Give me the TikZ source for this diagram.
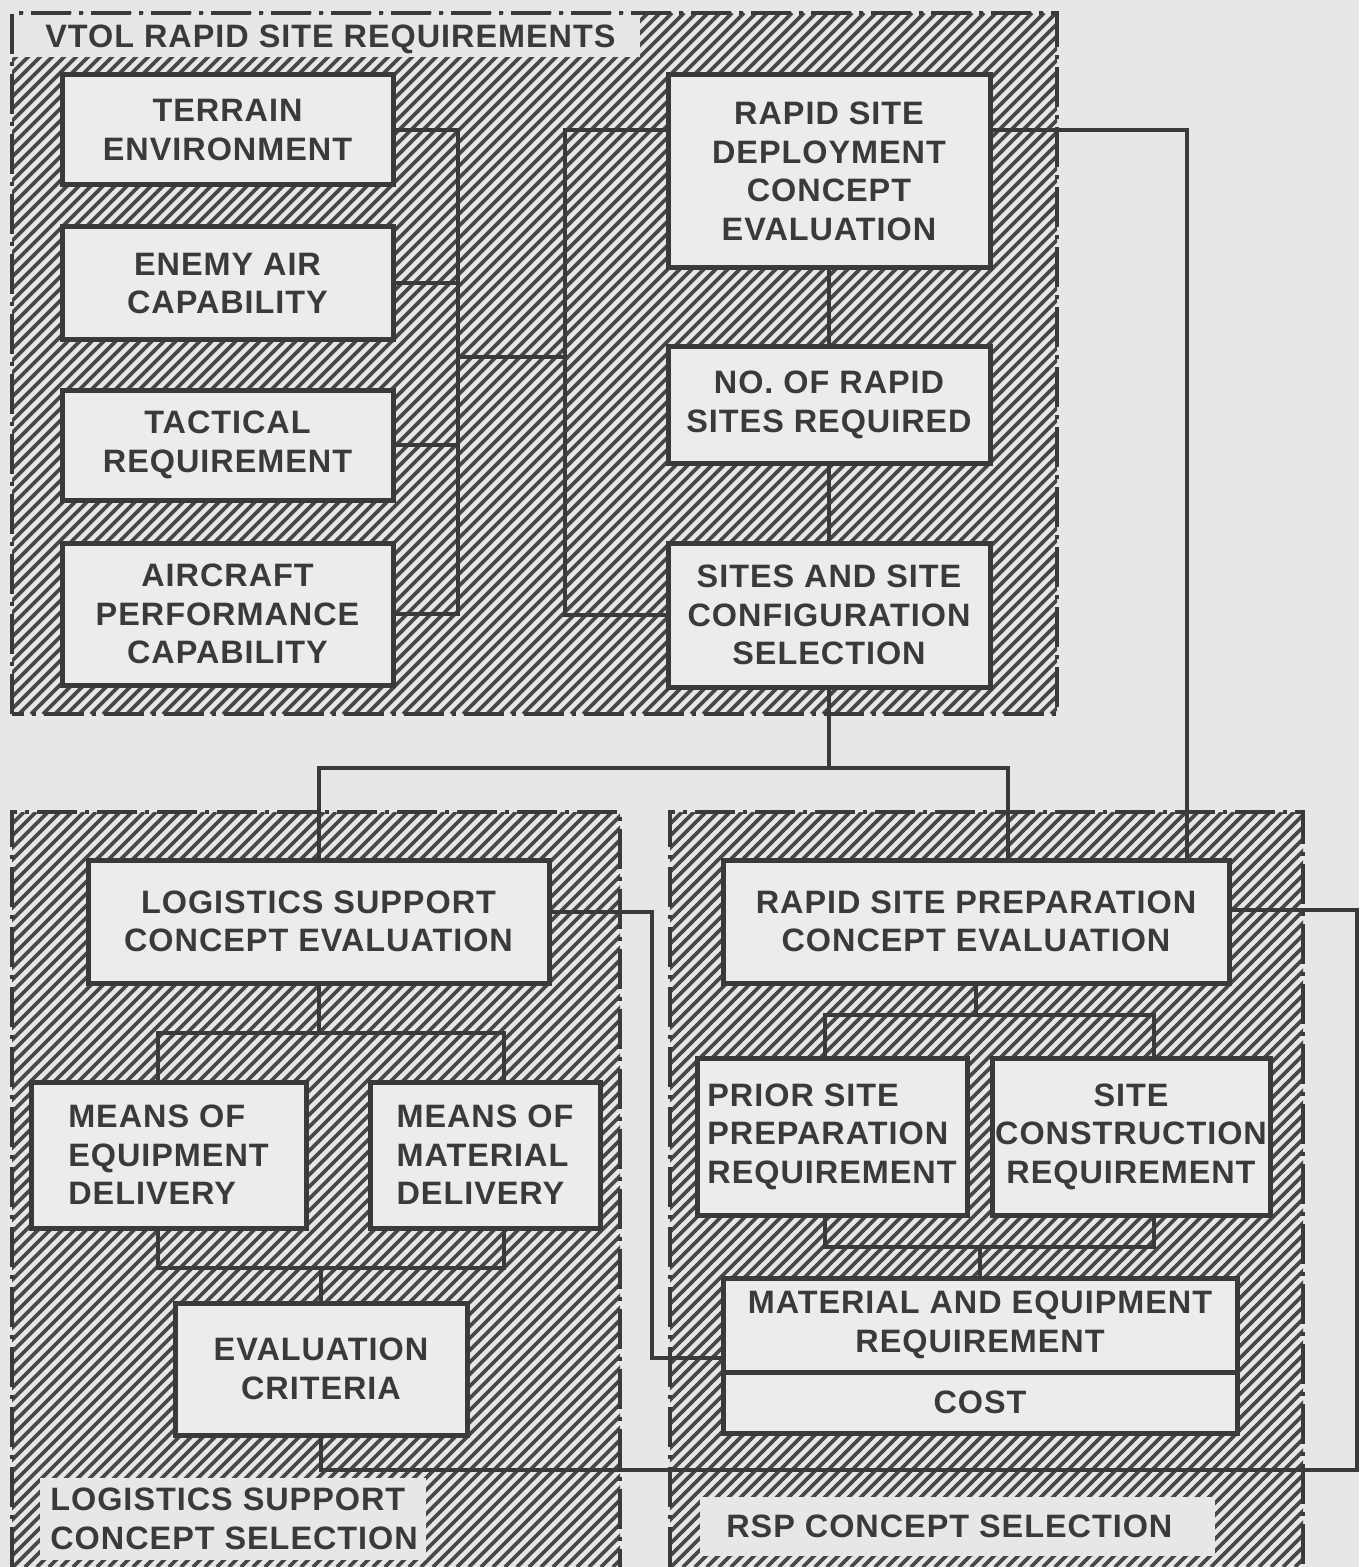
\documentclass[tikz,border=0pt]{standalone}
\usepackage{fontspec}
\setmainfont{Liberation Sans}[LetterSpace=3]

\definecolor{paper}{RGB}{231,231,229}
\definecolor{boxfill}{RGB}{236,236,234}
\definecolor{ink}{RGB}{58,58,58}
\definecolor{hatchink}{RGB}{72,72,72}

\newcommand{\boxfont}{\fontsize{16.2}{19.3}\selectfont\bfseries}

% diagonal hatching of one zone, clipped to its rectangle
\newcommand{\hatchzone}[4]{%
  \begin{scope}
    \clip (#1,#2) rectangle (#3,#4);
    \pgfmathtruncatemacro{\HatchA}{#1+#2}
    \pgfmathtruncatemacro{\HatchB}{#1+#2+12}
    \pgfmathtruncatemacro{\HatchC}{#3+#4}
    \foreach \c in {\HatchA,\HatchB,...,\HatchC}
      \draw[hatchline] ({\c-#2},#2) -- ({\c-#4},#4);
  \end{scope}}

\begin{document}
\begin{tikzpicture}[x=0.5pt, y=-0.5pt,
    blockbox/.style={draw=ink, line width=2.5pt, fill=boxfill, inner sep=0pt,
                     align=center, font=\boxfont, text=ink},
    span/.style n args={4}{at={({(#1+#3)/2},{(#2+#4)/2})},
                     minimum width={(#3-#1)*0.5pt}, minimum height={(#4-#2)*0.5pt}},
    wire/.style={draw=ink, line width=2pt},
    hatchline/.style={draw=hatchink, line width=1.9pt},
    zoneedge/.style={draw=ink, line width=1.6pt,
                     dash pattern=on 20pt off 4pt on 2pt off 4pt},
    zonelabel/.style={inner sep=0pt, align=left, font=\boxfont, text=ink}]

  \useasboundingbox (0,0) rectangle (1359,1567);
  \fill[paper] (0,0) rectangle (1359,1567);

  % =======================================================
  % ZONES (hatched backgrounds)
  % =======================================================
  \hatchzone{12}{13}{1057}{714}
  \hatchzone{12}{812}{620}{1567}
  \hatchzone{670}{812}{1303}{1567}

  % clear strips for the zone titles
  \fill[paper] (12,13) rectangle (640,57);
  \fill[paper] (40,1478) rectangle (426,1560);
  \fill[paper] (700,1497) rectangle (1215,1556);

  \draw[zoneedge] (12,714) -- (12,13) -- (1057,13) -- (1057,714) -- cycle;
  \draw[zoneedge] (12,1567) -- (12,812) -- (620,812) -- (620,1567);
  \draw[zoneedge] (670,1567) -- (670,812) -- (1303,812) -- (1303,1567);

  \node[zonelabel, anchor=west] (reqlabel) at (45,39) {VTOL RAPID SITE REQUIREMENTS};
  \node[zonelabel, anchor=west] (loglabel) at (50,1519) {LOGISTICS SUPPORT\\CONCEPT SELECTION};
  \node[zonelabel, anchor=west] (rsplabel) at (726,1526) {RSP CONCEPT SELECTION};

  % =======================================================
  % 1. VTOL Rapid Site Requirements
  % =======================================================
  \node[blockbox, span={62}{75}{393}{185}] (terrain) {TERRAIN\\ENVIRONMENT};
  \node[blockbox, span={62}{227}{393}{340}] (enemyair) {ENEMY AIR\\CAPABILITY};
  \node[blockbox, span={62}{390}{393}{500}] (tactical) {TACTICAL\\REQUIREMENT};
  \node[blockbox, span={62}{543}{393}{685}] (aircraft) {AIRCRAFT\\PERFORMANCE\\CAPABILITY};

  \node[blockbox, span={668}{75}{990}{268}] (rsdeploy) {RAPID SITE\\DEPLOYMENT\\CONCEPT\\EVALUATION};
  \node[blockbox, span={668}{347}{990}{463}] (nosites) {NO. OF RAPID\\SITES REQUIRED};
  \node[blockbox, span={668}{543}{990}{687}] (sites) {SITES AND SITE\\CONFIGURATION\\SELECTION};

  % input buses
  \coordinate (lbus) at (458,357);
  \coordinate (rbus) at (565,357);
  \draw[wire] (terrain.east) -- (terrain.east -| lbus) -- (aircraft.east -| lbus) -- (aircraft.east);
  \foreach \n in {enemyair,tactical}
    \draw[wire] (\n.east) -- (\n.east -| lbus);
  \draw[wire] (lbus) -- (rbus);
  \draw[wire] (rsdeploy.west |- terrain.east) -- (rbus |- terrain.east) -- (rbus |- sites.west) -- (sites.west);

  \draw[wire] (rsdeploy.south) -- (nosites.north);
  \draw[wire] (nosites.south) -- (sites.north);

  % =======================================================
  % 2. Logistics Support Concept Selection
  % =======================================================
  \node[blockbox, span={88}{860}{549}{983}] (lsce) {LOGISTICS SUPPORT\\CONCEPT EVALUATION};
  \node[blockbox, align=left, span={31}{1082}{306}{1228}] (meqdel) {MEANS OF\\EQUIPMENT\\DELIVERY};
  \node[blockbox, align=left, span={370}{1082}{600}{1228}] (mmatdel) {MEANS OF\\MATERIAL\\DELIVERY};
  \node[blockbox, span={175}{1303}{467}{1435}] (evalcrit) {EVALUATION\\CRITERIA};

  \coordinate (lbarL) at (158,1033);
  \coordinate (lbarR) at (504,1033);
  \draw[wire] (lsce.south) -- (lsce.south |- lbarL);
  \draw[wire] (lbarL |- meqdel.north) -- (lbarL) -- (lbarR) -- (lbarR |- mmatdel.north);

  \coordinate (lbarL2) at (158,1268);
  \coordinate (lbarR2) at (504,1268);
  \draw[wire] (lbarL2 |- meqdel.south) -- (lbarL2) -- (lbarR2) -- (lbarR2 |- mmatdel.south);
  \draw[wire] (evalcrit.north) -- (evalcrit.north |- lbarL2);

  % =======================================================
  % 3. RSP Concept Selection
  % =======================================================
  \node[blockbox, span={723}{860}{1229}{983}] (rspce) {RAPID SITE PREPARATION\\CONCEPT EVALUATION};
  \node[blockbox, align=left, span={697}{1058}{967}{1215}] (priorsite) {PRIOR SITE\\PREPARATION\\REQUIREMENT};
  \node[blockbox, span={992}{1058}{1270}{1215}] (siteconst) {SITE\\CONSTRUCTION\\REQUIREMENT};
  \node[blockbox, span={723}{1278}{1237}{1372}] (mereq) {MATERIAL AND EQUIPMENT\\REQUIREMENT};
  \node[blockbox, span={723}{1372}{1237}{1433}] (cost) {COST};

  \coordinate (rbarL) at (825,1015);
  \coordinate (rbarR) at (1154,1015);
  \draw[wire] (rspce.south) -- (rspce.south |- rbarL);
  \draw[wire] (rbarL |- priorsite.north) -- (rbarL) -- (rbarR) -- (rbarR |- siteconst.north);

  \coordinate (rbarL2) at (825,1247);
  \coordinate (rbarR2) at (1154,1247);
  \draw[wire] (rbarL2 |- priorsite.south) -- (rbarL2) -- (rbarR2) -- (rbarR2 |- siteconst.south);
  \draw[wire] (mereq.north) -- (mereq.north |- rbarL2);

  % =======================================================
  % 4. Links between the zones
  % =======================================================
  \coordinate (split) at (829,768);
  \coordinate (rspdrop) at (1008,768);
  \draw[wire] (sites.south) -- (split);
  \draw[wire] (lsce.north) |- (split) -- (rspdrop) -- (rspdrop |- rspce.north);

  \coordinate (loopA) at (1187,130);
  \draw[wire] (rsdeploy.east |- loopA) -- (loopA) -- (loopA |- rspce.north);

  \coordinate (loopB) at (1357,910);
  \coordinate (loopC) at (1357,1470);
  \draw[wire] (rspce.east |- loopB) -- (loopB) -- (loopC) -| (evalcrit.south);

  \coordinate (logA) at (652,912);
  \coordinate (logB) at (652,1358);
  \draw[wire] (lsce.east |- logA) -- (logA) -- (logB) -- (logB -| mereq.west);

\end{tikzpicture}
\end{document}
